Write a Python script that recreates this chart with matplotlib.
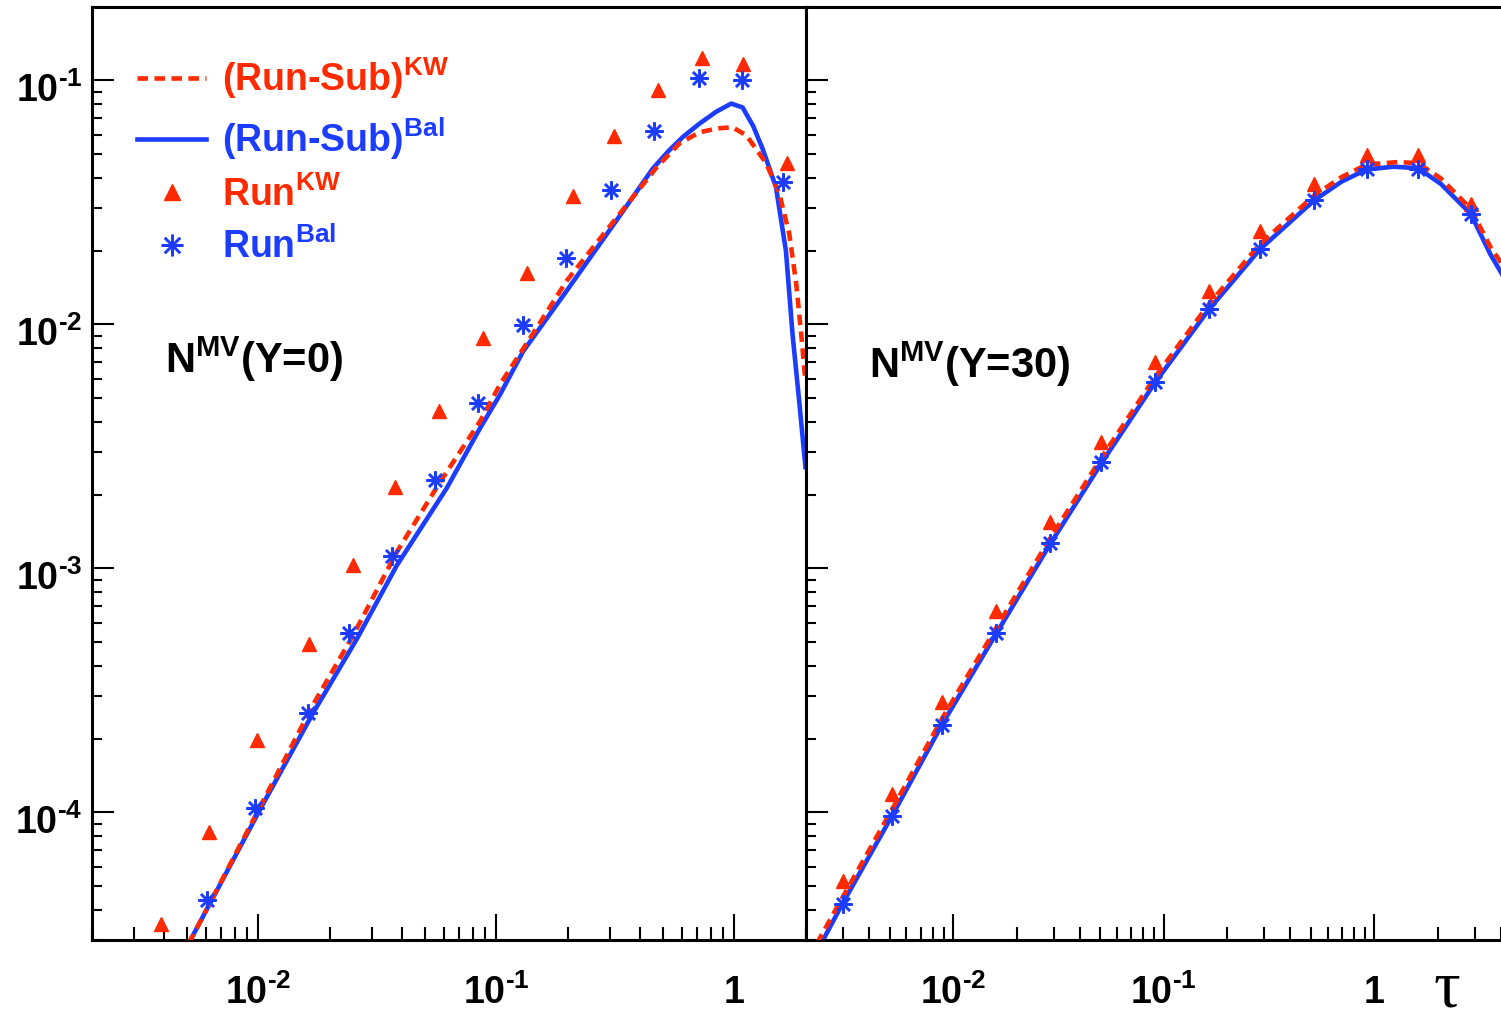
import matplotlib
matplotlib.use('Agg')
import matplotlib.pyplot as plt
from matplotlib.ticker import LogLocator, NullFormatter
from matplotlib.transforms import ScaledTranslation

plt.rcParams['font.family'] = 'Liberation Sans'
plt.rcParams['font.weight'] = 'bold'
plt.rcParams['mathtext.fontset'] = 'custom'
plt.rcParams['mathtext.rm'] = 'Liberation Sans:bold'
plt.rcParams['mathtext.it'] = 'Liberation Sans:bold'
plt.rcParams['mathtext.bf'] = 'Liberation Sans:bold'
plt.rcParams['mathtext.default'] = 'rm'

RED = '#ff2a00'
BLUE = '#1c3cff'

# ---- Y = 0 ----
tau_kw0 = [0.0039, 0.0062, 0.0099, 0.0164, 0.0251, 0.0375, 0.0574, 0.0878,
           0.134, 0.209, 0.312, 0.479, 0.729, 1.088, 1.668]
run_kw0 = [3.5e-5, 8.34e-5, 1.98e-4, 4.9e-4, 1.03e-3, 2.16e-3, 4.4e-3, 8.8e-3,
           0.0163, 0.0337, 0.0591, 0.0912, 0.124, 0.117, 0.046]
tau_bal0 = [0.0061, 0.0097, 0.0162, 0.024, 0.0364, 0.0553, 0.0839, 0.130,
            0.196, 0.303, 0.460, 0.711, 1.073, 1.60]
run_bal0 = [4.36e-5, 1.04e-4, 2.55e-4, 5.43e-4, 1.125e-3, 2.30e-3, 4.75e-3,
            9.93e-3, 0.0188, 0.0356, 0.0621, 0.102, 0.1002, 0.0383]

tau_sub_bal0 = [0.00509, 0.0105, 0.017, 0.0259, 0.0382, 0.0618, 0.0853, 0.1035,
                0.1296, 0.197, 0.319, 0.454, 0.53, 0.607, 0.713, 0.84, 0.97, 1.083,
                1.2, 1.314, 1.496, 1.647, 1.756, 1.873, 1.99]
sub_bal0 = [2.9e-5, 1.09e-4, 2.56e-4, 5.13e-4, 1.03e-3, 2.13e-3, 3.75e-3, 5.15e-3,
            7.76e-3, 0.0137, 0.0266, 0.0435, 0.0515, 0.0586, 0.0665, 0.0745, 0.0804,
            0.0775, 0.065, 0.0525, 0.0365, 0.0200, 9.1e-3, 4.83e-3, 2.6e-3]
tau_sub_kw0 = [0.0051, 0.0105, 0.017, 0.025, 0.0382, 0.058, 0.0853, 0.1035,
               0.142, 0.1975, 0.32, 0.471, 0.588, 0.713, 0.85, 0.981, 1.123, 1.362,
               1.544, 1.701, 1.82, 1.91, 1.99]
sub_kw0 = [2.9e-5, 1.12e-4, 2.77e-4, 5.31e-4, 1.17e-3, 2.26e-3, 4.0e-3, 5.67e-3,
           9.12e-3, 0.0151, 0.0274, 0.044, 0.0552, 0.0613, 0.0636, 0.0643, 0.0596,
           0.0457, 0.0344, 0.0235, 0.01465, 9.1e-3, 5.8e-3]

# ---- Y = 30 ----
tau_run30 = [0.00299, 0.00513, 0.00887, 0.016, 0.0289, 0.0506, 0.0906, 0.1637,
             0.286, 0.517, 0.92, 1.614, 2.89]
run_kw30 = [5.25e-5, 1.19e-4, 2.84e-4, 6.71e-4, 1.556e-3, 3.31e-3, 7.02e-3,
            0.01375, 0.02404, 0.0377, 0.0493, 0.0493, 0.0312]
run_bal30 = [4.2e-5, 9.63e-5, 2.29e-4, 5.42e-4, 1.27e-3, 2.72e-3, 5.79e-3,
             0.01156, 0.02037, 0.0323, 0.0435, 0.0435, 0.0284]

tau_sub_bal30 = [0.00236, 0.00299, 0.00513, 0.00887, 0.016, 0.0289, 0.0506, 0.0906,
                 0.1637, 0.286, 0.517, 0.70, 0.92, 1.24, 1.614, 2.07, 2.873, 3.56,
                 4.04]
sub_bal30 = [2.9e-5, 4.25e-5, 9.7e-5, 2.3e-4, 5.4e-4, 1.26e-3, 2.7e-3, 5.75e-3,
             0.0115, 0.0203, 0.0322, 0.0385, 0.0432, 0.0443, 0.0437, 0.0377, 0.0284,
             0.0194, 0.0161]
tau_sub_kw30 = [0.00225, 0.00299, 0.00513, 0.00887, 0.016, 0.0289, 0.0506, 0.0906,
                0.1637, 0.286, 0.517, 0.70, 0.92, 1.3, 1.614, 2.07, 2.873, 3.56,
                4.04]
sub_kw30 = [2.9e-5, 4.5e-5, 1.03e-4, 2.43e-4, 5.7e-4, 1.33e-3, 2.84e-3, 6.05e-3,
            0.0121, 0.0213, 0.0337, 0.0402, 0.0452, 0.0463, 0.0458, 0.0397, 0.0298,
            0.0208, 0.0177]

HY = '\u2010'
xticks = [0.01, 0.1, 1]
xticklabels = [r'$10^{%s2}$' % HY, r'$10^{%s1}$' % HY, '1']
yticks = [1e-4, 1e-3, 1e-2, 1e-1]
yticklabels = [r'$10^{%s%d}$' % (HY, k) for k in (4, 3, 2, 1)]

fig = plt.figure(figsize=(15.01, 10.22), dpi=100)
ax0 = fig.add_axes([92 / 1501, 82 / 1022, 714 / 1501, 933 / 1022])
ax1 = fig.add_axes([806 / 1501, 82 / 1022, 695 / 1501, 933 / 1022])

dash = (0, (2.3, 1.4))
star = (8, 2, 0)

for ax, xmax in ((ax0, 2.0), (ax1, 4.0)):
    ax.set_xscale('log')
    ax.set_yscale('log')
    ax.set_xlim(0.002, xmax)
    ax.set_ylim(3e-5, 0.2)
    for s in ax.spines.values():
        s.set_linewidth(2.2)
    ax.set_xticks(xticks)
    ax.set_xticklabels(xticklabels)
    ax.set_yticks(yticks)
    ax.xaxis.set_minor_locator(LogLocator(base=10, subs=range(2, 10), numticks=20))
    ax.yaxis.set_minor_locator(LogLocator(base=10, subs=range(2, 10), numticks=20))
    ax.xaxis.set_minor_formatter(NullFormatter())
    ax.yaxis.set_minor_formatter(NullFormatter())
    ax.tick_params(axis='x', which='major', direction='in', length=19, width=1.5,
                   pad=25, labelsize=27)
    ax.tick_params(axis='x', which='minor', direction='in', length=9.5, width=1.5)
    ax.tick_params(axis='y', which='major', direction='in', length=16, width=1.5,
                   pad=7, labelsize=27)
    ax.tick_params(axis='y', which='minor', direction='in', length=7.5, width=1.5)
    ax.tick_params(top=False, right=False)

ax0.set_yticklabels(yticklabels)
shift = ScaledTranslation(0, -5 / 72, fig.dpi_scale_trans)
for lab in ax0.get_yticklabels():
    lab.set_transform(lab.get_transform() + shift)
ax1.tick_params(axis='y', which='both', labelleft=False)
ax1.spines['right'].set_visible(False)

# left panel
l1, = ax0.plot(tau_sub_kw0, sub_kw0, color=RED, lw=3.3, ls=dash, zorder=3,
               label=r'(Run-Sub)$^{KW}$')
l2, = ax0.plot(tau_sub_bal0, sub_bal0, color=BLUE, lw=3.3, zorder=2,
               label=r'(Run-Sub)$^{Bal}$')
m1, = ax0.plot(tau_kw0, run_kw0, ls='none', marker='^', ms=10, color=RED,
               mec=RED, label=r'Run$^{KW}$', zorder=4)
m2, = ax0.plot(tau_bal0, run_bal0, ls='none', marker=star, ms=13, mew=1.8,
               color=BLUE, mec=BLUE, label=r'Run$^{Bal}$', zorder=4)

# right panel
ax1.plot(tau_sub_kw30, sub_kw30, color=RED, lw=3.3, ls=dash, zorder=3)
ax1.plot(tau_sub_bal30, sub_bal30, color=BLUE, lw=3.3, zorder=2)
ax1.plot(tau_run30, run_kw30, ls='none', marker='^', ms=10, color=RED, mec=RED, zorder=4)
ax1.plot(tau_run30, run_bal30, ls='none', marker=star, ms=13, mew=1.8,
         color=BLUE, mec=BLUE, zorder=4)

leg = ax0.legend(handles=[l1, l2, m1, m2], loc='upper left',
                 bbox_to_anchor=(0.063, 0.948), frameon=False, fontsize=27,
                 handlelength=1.85, handletextpad=0.42, labelspacing=0.38,
                 borderpad=0, borderaxespad=0, numpoints=1, markerscale=1.2)
for txt, c in zip(leg.get_texts(), [RED, BLUE, RED, BLUE]):
    txt.set_color(c)

ax0.text(0.102, 0.6077, r'N$^{MV}$(Y=0)', transform=ax0.transAxes, fontsize=30,
         fontweight='bold', ha='left', va='baseline')
ax1.text(0.0906, 0.6024, r'N$^{MV}$(Y=30)', transform=ax1.transAxes, fontsize=30,
         fontweight='bold', ha='left', va='baseline')

fig.text(1447 / 1501, 0.001, '\u03c4', family='Liberation Serif', fontsize=48,
         fontweight='normal', ha='center', va='bottom')

fig.savefig('out.png', dpi=100)
